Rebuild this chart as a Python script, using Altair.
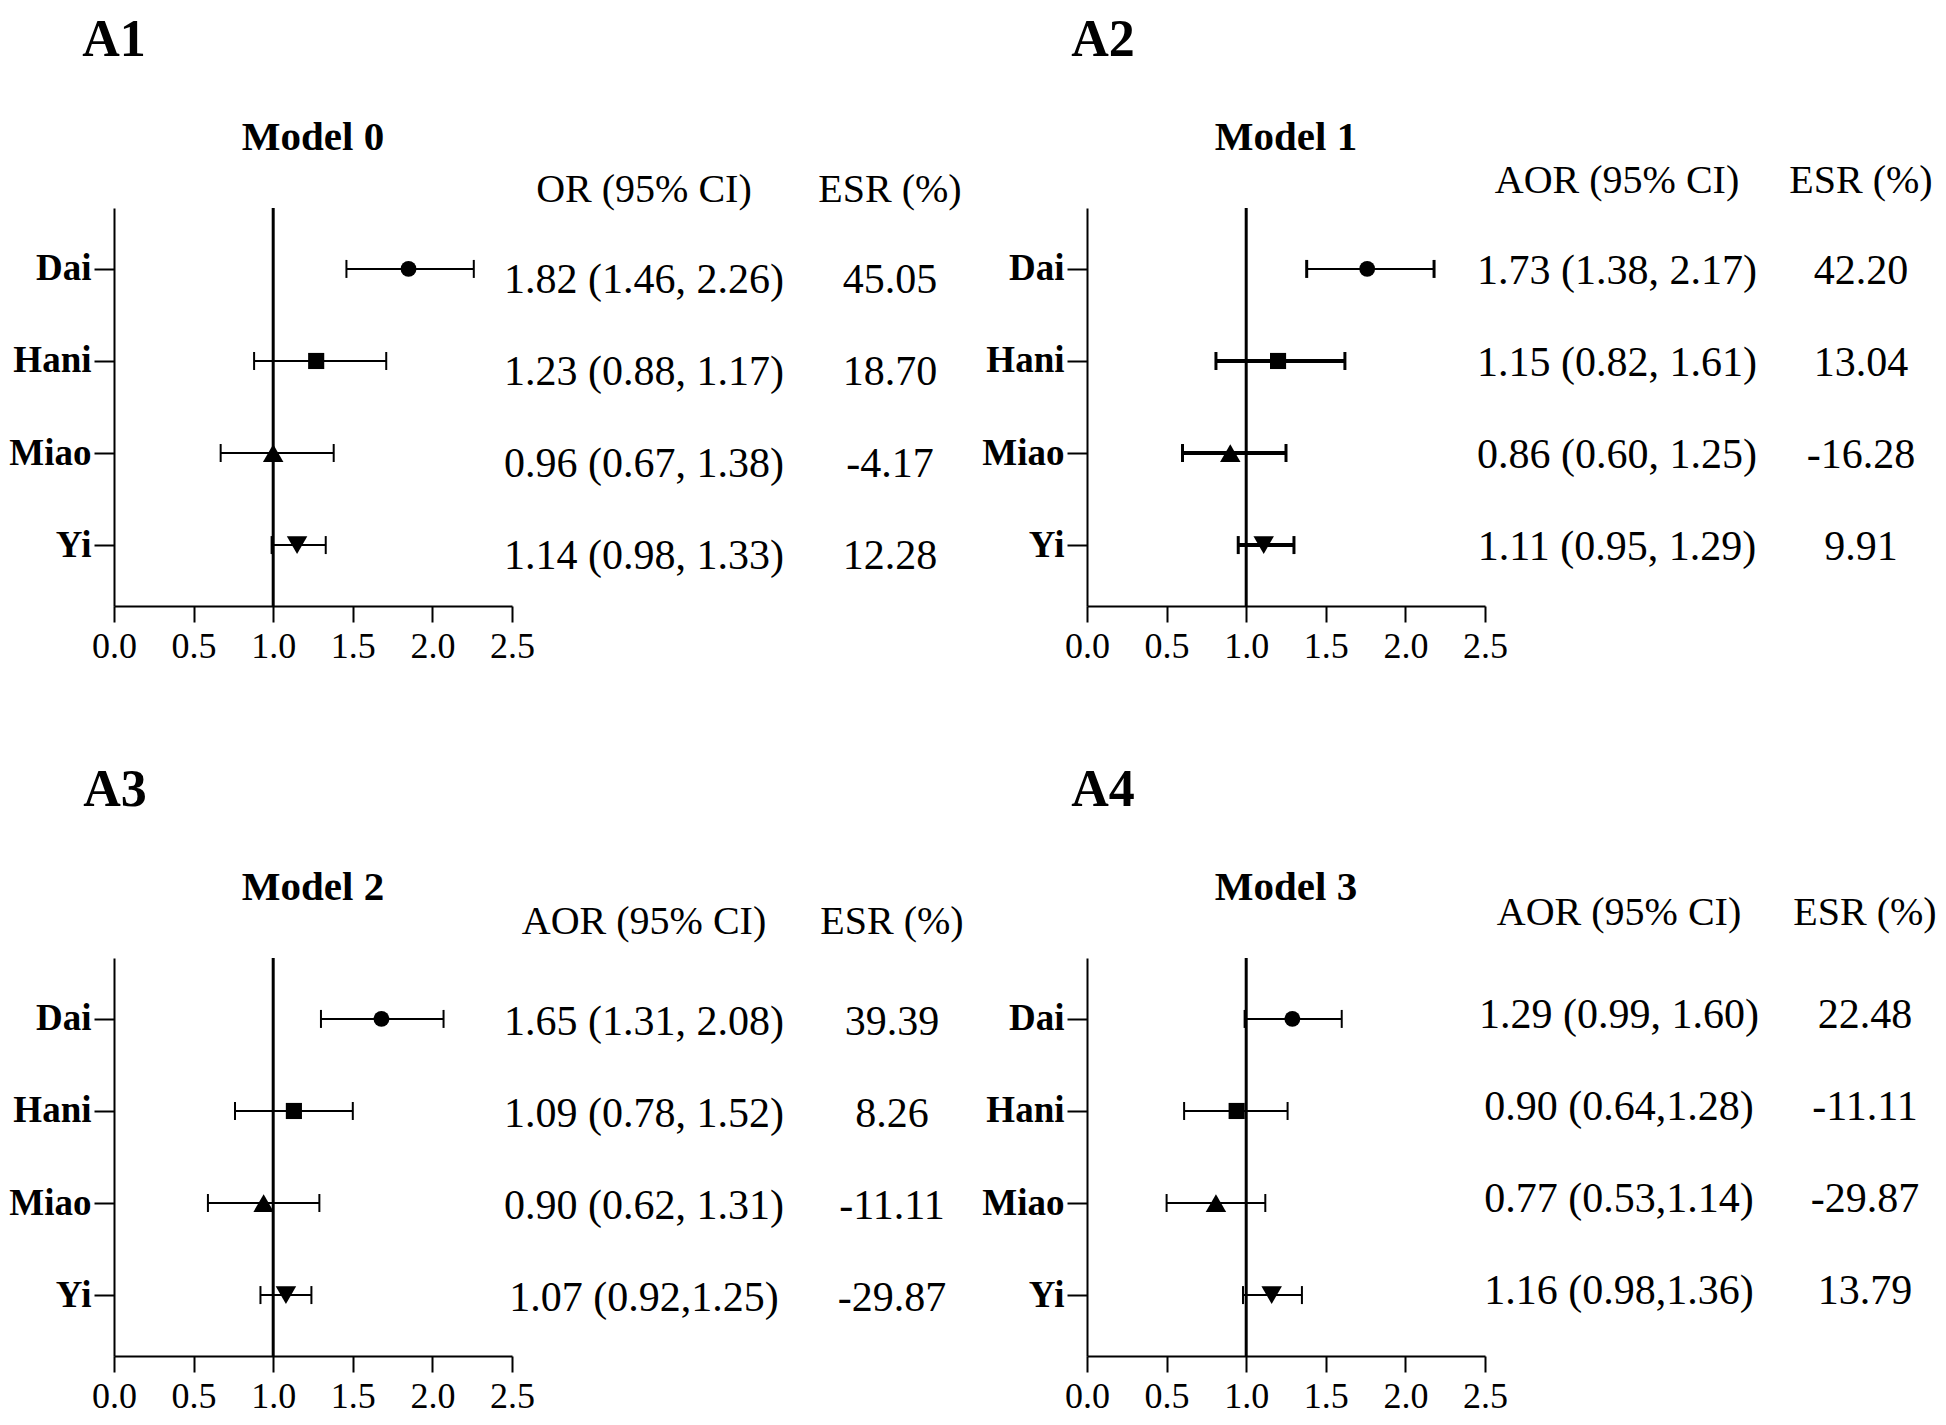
import altair as alt
import pandas as pd

SERIF = "Liberation Serif"

GROUPS = ["Dai", "Hani", "Miao", "Yi"]
SHAPES = ["circle", "square", "triangle-up", "triangle-down"]
SHAPE_SIZES = [250, 260, 420, 420]
X_TICKS = [0.0, 0.5, 1.0, 1.5, 2.0, 2.5]

PANEL_LABELS = ["A1", "A2", "A3", "A4"]
MODEL_TITLES = ["Model 0", "Model 1", "Model 2", "Model 3"]
EST_HEADERS = ["OR (95% CI)", "AOR (95% CI)", "AOR (95% CI)", "AOR (95% CI)"]
ESR_HEADER = "ESR (%)"

# point estimates and CI ends as drawn in each panel
A1_EST = [1.85, 1.27, 1.00, 1.15]
A1_LO = [1.46, 0.88, 0.67, 0.99]
A1_HI = [2.26, 1.71, 1.38, 1.33]
A1_TEXT = ["1.82 (1.46, 2.26)", "1.23 (0.88, 1.17)", "0.96 (0.67, 1.38)", "1.14 (0.98, 1.33)"]
A1_ESR = ["45.05", "18.70", "-4.17", "12.28"]

A2_EST = [1.76, 1.20, 0.90, 1.11]
A2_LO = [1.38, 0.81, 0.60, 0.95]
A2_HI = [2.18, 1.62, 1.25, 1.30]
A2_TEXT = ["1.73 (1.38, 2.17)", "1.15 (0.82, 1.61)", "0.86 (0.60, 1.25)", "1.11 (0.95, 1.29)"]
A2_ESR = ["42.20", "13.04", "-16.28", "9.91"]

A3_EST = [1.68, 1.13, 0.94, 1.08]
A3_LO = [1.30, 0.76, 0.59, 0.92]
A3_HI = [2.07, 1.50, 1.29, 1.24]
A3_TEXT = ["1.65 (1.31, 2.08)", "1.09 (0.78, 1.52)", "0.90 (0.62, 1.31)", "1.07 (0.92,1.25)"]
A3_ESR = ["39.39", "8.26", "-11.11", "-29.87"]

A4_EST = [1.29, 0.94, 0.81, 1.16]
A4_LO = [0.99, 0.61, 0.50, 0.98]
A4_HI = [1.60, 1.26, 1.12, 1.35]
A4_TEXT = ["1.29 (0.99, 1.60)", "0.90 (0.64,1.28)", "0.77 (0.53,1.14)", "1.16 (0.98,1.36)"]
A4_ESR = ["22.48", "-11.11", "-29.87", "13.79"]

# ---- layout / style (pixels, kept apart from the data) ----
W = 398
H = 398
LAYOUT = [
    dict(lbl_dx=0, hdr_y=-18, txt_dy=11, ci_x=530, esr_x=776, ci_w=[2, 2, 2, 2], cap_w=2),
    dict(lbl_dx=16, hdr_y=-27, txt_dy=2, ci_x=530, esr_x=774, ci_w=[2, 4, 4, 4], cap_w=3),
    dict(lbl_dx=1, hdr_y=-36, txt_dy=3, ci_x=530, esr_x=778, ci_w=[2, 2, 2, 2], cap_w=2),
    dict(lbl_dx=16, hdr_y=-45, txt_dy=-4, ci_x=532, esr_x=778, ci_w=[2, 2, 2, 2], cap_w=2),
]


def make_panel(label, model, hdr, est, lo, hi, txt, esr, lay):
    df = pd.DataFrame({
        "group": GROUPS, "est": est, "lo": lo, "hi": hi,
        "txt": txt, "esr": esr, "sw": lay["ci_w"],
    })
    meta = pd.DataFrame({"label": [label], "model": [model], "hdr": [hdr], "esrh": [ESR_HEADER]})

    xs = alt.Scale(domain=[0, 2.5], nice=False, zero=False)
    ys = alt.Scale(type="point", padding=0.662, domain=GROUPS)
    xax = alt.Axis(values=X_TICKS, format=".1f", title=None, grid=False,
                   labelFontSize=36, labelFont=SERIF, tickSize=16, labelPadding=7,
                   labelFlush=False, labelOverlap=False)
    yax = alt.Axis(title=None, grid=False, labelFontSize=37, labelFont=SERIF,
                   labelFontWeight="bold", tickSize=20, labelPadding=3)

    ci = alt.Chart(df).mark_rule(color="black").encode(
        x=alt.X("lo:Q", scale=xs, axis=xax),
        x2="hi:Q",
        y=alt.Y("group:N", scale=ys, axis=yax, sort=GROUPS),
        strokeWidth=alt.StrokeWidth("sw:Q", scale=None),
    )
    ref = alt.Chart(meta).mark_rule(color="black", strokeWidth=3).encode(x=alt.datum(1.0))
    cap_lo = alt.Chart(df).mark_tick(color="black", size=18, thickness=lay["cap_w"], opacity=1).encode(
        x="lo:Q", y=alt.Y("group:N", sort=GROUPS))
    cap_hi = alt.Chart(df).mark_tick(color="black", size=18, thickness=lay["cap_w"], opacity=1).encode(
        x="hi:Q", y=alt.Y("group:N", sort=GROUPS))
    pts = [
        alt.Chart(df).transform_filter(alt.datum.group == g).mark_point(
            filled=True, opacity=1, color="black", shape=s, size=sz, strokeWidth=0
        ).encode(x="est:Q", y=alt.Y("group:N", sort=GROUPS))
        for g, s, sz in zip(GROUPS, SHAPES, SHAPE_SIZES)
    ]
    t_ci = alt.Chart(df).mark_text(font=SERIF, fontSize=42, color="black", dy=lay["txt_dy"]).encode(
        x=alt.value(lay["ci_x"]), y=alt.Y("group:N", sort=GROUPS), text="txt:N")
    t_esr = alt.Chart(df).mark_text(font=SERIF, fontSize=42, color="black", dy=lay["txt_dy"]).encode(
        x=alt.value(lay["esr_x"]), y=alt.Y("group:N", sort=GROUPS), text="esr:N")
    h_ci = alt.Chart(meta).mark_text(font=SERIF, fontSize=40, color="black").encode(
        x=alt.value(lay["ci_x"]), y=alt.value(lay["hdr_y"]), text="hdr:N")
    h_esr = alt.Chart(meta).mark_text(font=SERIF, fontSize=40, color="black").encode(
        x=alt.value(lay["esr_x"]), y=alt.value(lay["hdr_y"]), text="esrh:N")
    t_model = alt.Chart(meta).mark_text(font=SERIF, fontSize=41, fontWeight="bold", color="black").encode(
        x=alt.value(W / 2), y=alt.value(-70), text="model:N")
    t_label = alt.Chart(meta).mark_text(font=SERIF, fontSize=52, fontWeight="bold", color="black").encode(
        x=alt.value(lay["lbl_dx"]), y=alt.value(-168), text="label:N")

    return alt.layer(ci, ref, cap_lo, cap_hi, *pts, t_ci, t_esr, h_ci, h_esr, t_model, t_label).properties(
        width=W, height=H)


panels = [
    make_panel(PANEL_LABELS[0], MODEL_TITLES[0], EST_HEADERS[0], A1_EST, A1_LO, A1_HI, A1_TEXT, A1_ESR, LAYOUT[0]),
    make_panel(PANEL_LABELS[1], MODEL_TITLES[1], EST_HEADERS[1], A2_EST, A2_LO, A2_HI, A2_TEXT, A2_ESR, LAYOUT[1]),
    make_panel(PANEL_LABELS[2], MODEL_TITLES[2], EST_HEADERS[2], A3_EST, A3_LO, A3_HI, A3_TEXT, A3_ESR, LAYOUT[2]),
    make_panel(PANEL_LABELS[3], MODEL_TITLES[3], EST_HEADERS[3], A4_EST, A4_LO, A4_HI, A4_TEXT, A4_ESR, LAYOUT[3]),
]

chart = alt.concat(
    *panels, columns=2, spacing={"row": 352, "column": 575}, bounds="flush",
    padding={"left": 0, "top": 6, "right": 0, "bottom": 0},
    background="white",
).configure_view(stroke=None).configure_axis(
    domainColor="black", tickColor="black", labelColor="black",
    domainWidth=2, tickWidth=2,
)

chart.save("out.html", embed_options={"renderer": "svg", "actions": False})
